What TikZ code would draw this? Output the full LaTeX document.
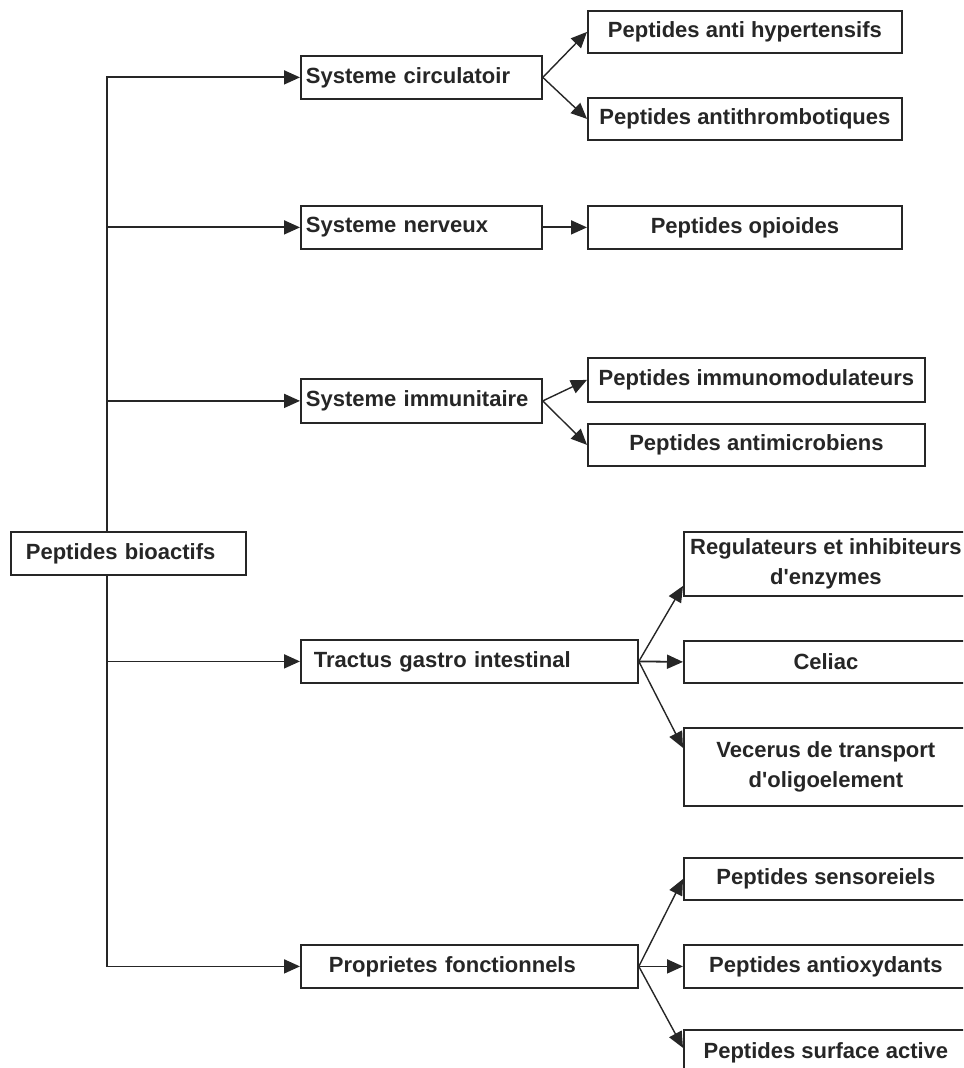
\documentclass[tikz,border=0pt]{standalone}
\usepackage{fontspec}
\usetikzlibrary{arrows.meta}
\newfontfamily\boxfont{Liberation Sans}

\tikzset{
  box/.style={draw, line width=0.9pt, anchor=north west, fill=white, inner ysep=0pt,
    font=\boxfont\bfseries\fontsize{11}{15}\selectfont},
  lbox/.style 2 args={box, text width=#1, inner xsep=#2, align=left},
  cbox/.style={box, inner xsep=0pt, align=center},
  ftri/.tip={Triangle[length=8pt,width=7pt]},
  conn/.style={line width=0.9pt, -ftri},
  slant/.style={conn, line width=0.7pt},
}

\begin{document}
\begin{tikzpicture}[x=0.5pt, y=-0.5pt, color=black!85]
        \useasboundingbox (0,0) rectangle (963,1068);
        \clip (0,0) rectangle (963,1068);

        \node [lbox={115.5pt}{2.5pt}, minimum height=21.5pt] (circ) at (300,55) {Systeme circulatoir};
        \node [lbox={115.5pt}{2.5pt}, minimum height=21.5pt] (nerv) at (300,205) {Systeme nerveux};
        \node [lbox={115.5pt}{2.5pt}, minimum height=22pt] (immu) at (300,378) {Systeme immunitaire};
        \node [lbox={155.5pt}{6.5pt}, minimum height=21.5pt] (trac) at (300,639) {Tractus gastro intestinal};
        \node [lbox={140.5pt}{14pt}, minimum height=21.5pt] (prop) at (300,944) {Proprietes fonctionnels};

        \node [cbox, minimum width=157pt, minimum height=21pt] (hyp) at (587,10) {Peptides anti hypertensifs};
        \node [cbox, minimum width=157pt, minimum height=21pt] (thr) at (587,97) {Peptides antithrombotiques};
        \node [cbox, minimum width=157pt, minimum height=21.5pt] (opi) at (587,205) {Peptides opioides};
        \node [cbox, minimum width=168.5pt, minimum height=22pt] (imm) at (587,357) {Peptides immunomodulateurs};
        \node [cbox, minimum width=168.5pt, minimum height=21pt] (mic) at (587,423) {Peptides antimicrobiens};
        \node [cbox, minimum width=142pt, minimum height=32pt] (reg) at (683,531) {Regulateurs et inhibiteurs\\d'enzymes};
        \node [cbox, minimum width=142pt, minimum height=21pt] (cel) at (683,640) {Celiac};
        \node [cbox, minimum width=142pt, minimum height=39pt] (vec) at (683,727) {Vecerus de transport\\d'oligoelement};
        \node [cbox, minimum width=142pt, minimum height=21pt] (sen) at (683,857) {Peptides sensoreiels};
        \node [cbox, minimum width=142pt, minimum height=21.5pt] (oxy) at (683,944) {Peptides antioxydants};
        \node [cbox, minimum width=142pt, minimum height=23pt] (sur) at (683,1029) {Peptides surface active};

        \coordinate (trunk) at (107,0);
        \draw [conn, ftri-ftri] (circ.west) -| (prop.west -| trunk) -- (prop.west);
        \draw [conn] (nerv.west -| trunk) -- (nerv.west);
        \draw [conn] (immu.west -| trunk) -- (immu.west);
        \draw [conn] (trac.west -| trunk) -- (trac.west);

        \draw [slant] (circ.east) -- (hyp.west);
        \draw [slant] (circ.east) -- (thr.west);
        \draw [conn] (nerv.east) -- (opi.west);
        \draw [slant] (immu.east) -- (imm.west);
        \draw [slant] (immu.east) -- (mic.west);
        \draw [slant] (trac.east) -- ([yshift=-11pt]reg.west);
        \draw [conn] (trac.east) -- (cel.west);
        \draw [slant] (trac.east) -- ([yshift=9.5pt]vec.west);
        \draw [slant] (prop.east) -- (sen.west);
        \draw [conn] (prop.east) -- (oxy.west);
        \draw [slant] (prop.east) -- ([yshift=2.5pt]sur.west);

        \node [lbox={102.5pt}{7.5pt}, minimum height=21.5pt] (root) at (10,531) {Peptides bioactifs};
    \end{tikzpicture}
\end{document}
